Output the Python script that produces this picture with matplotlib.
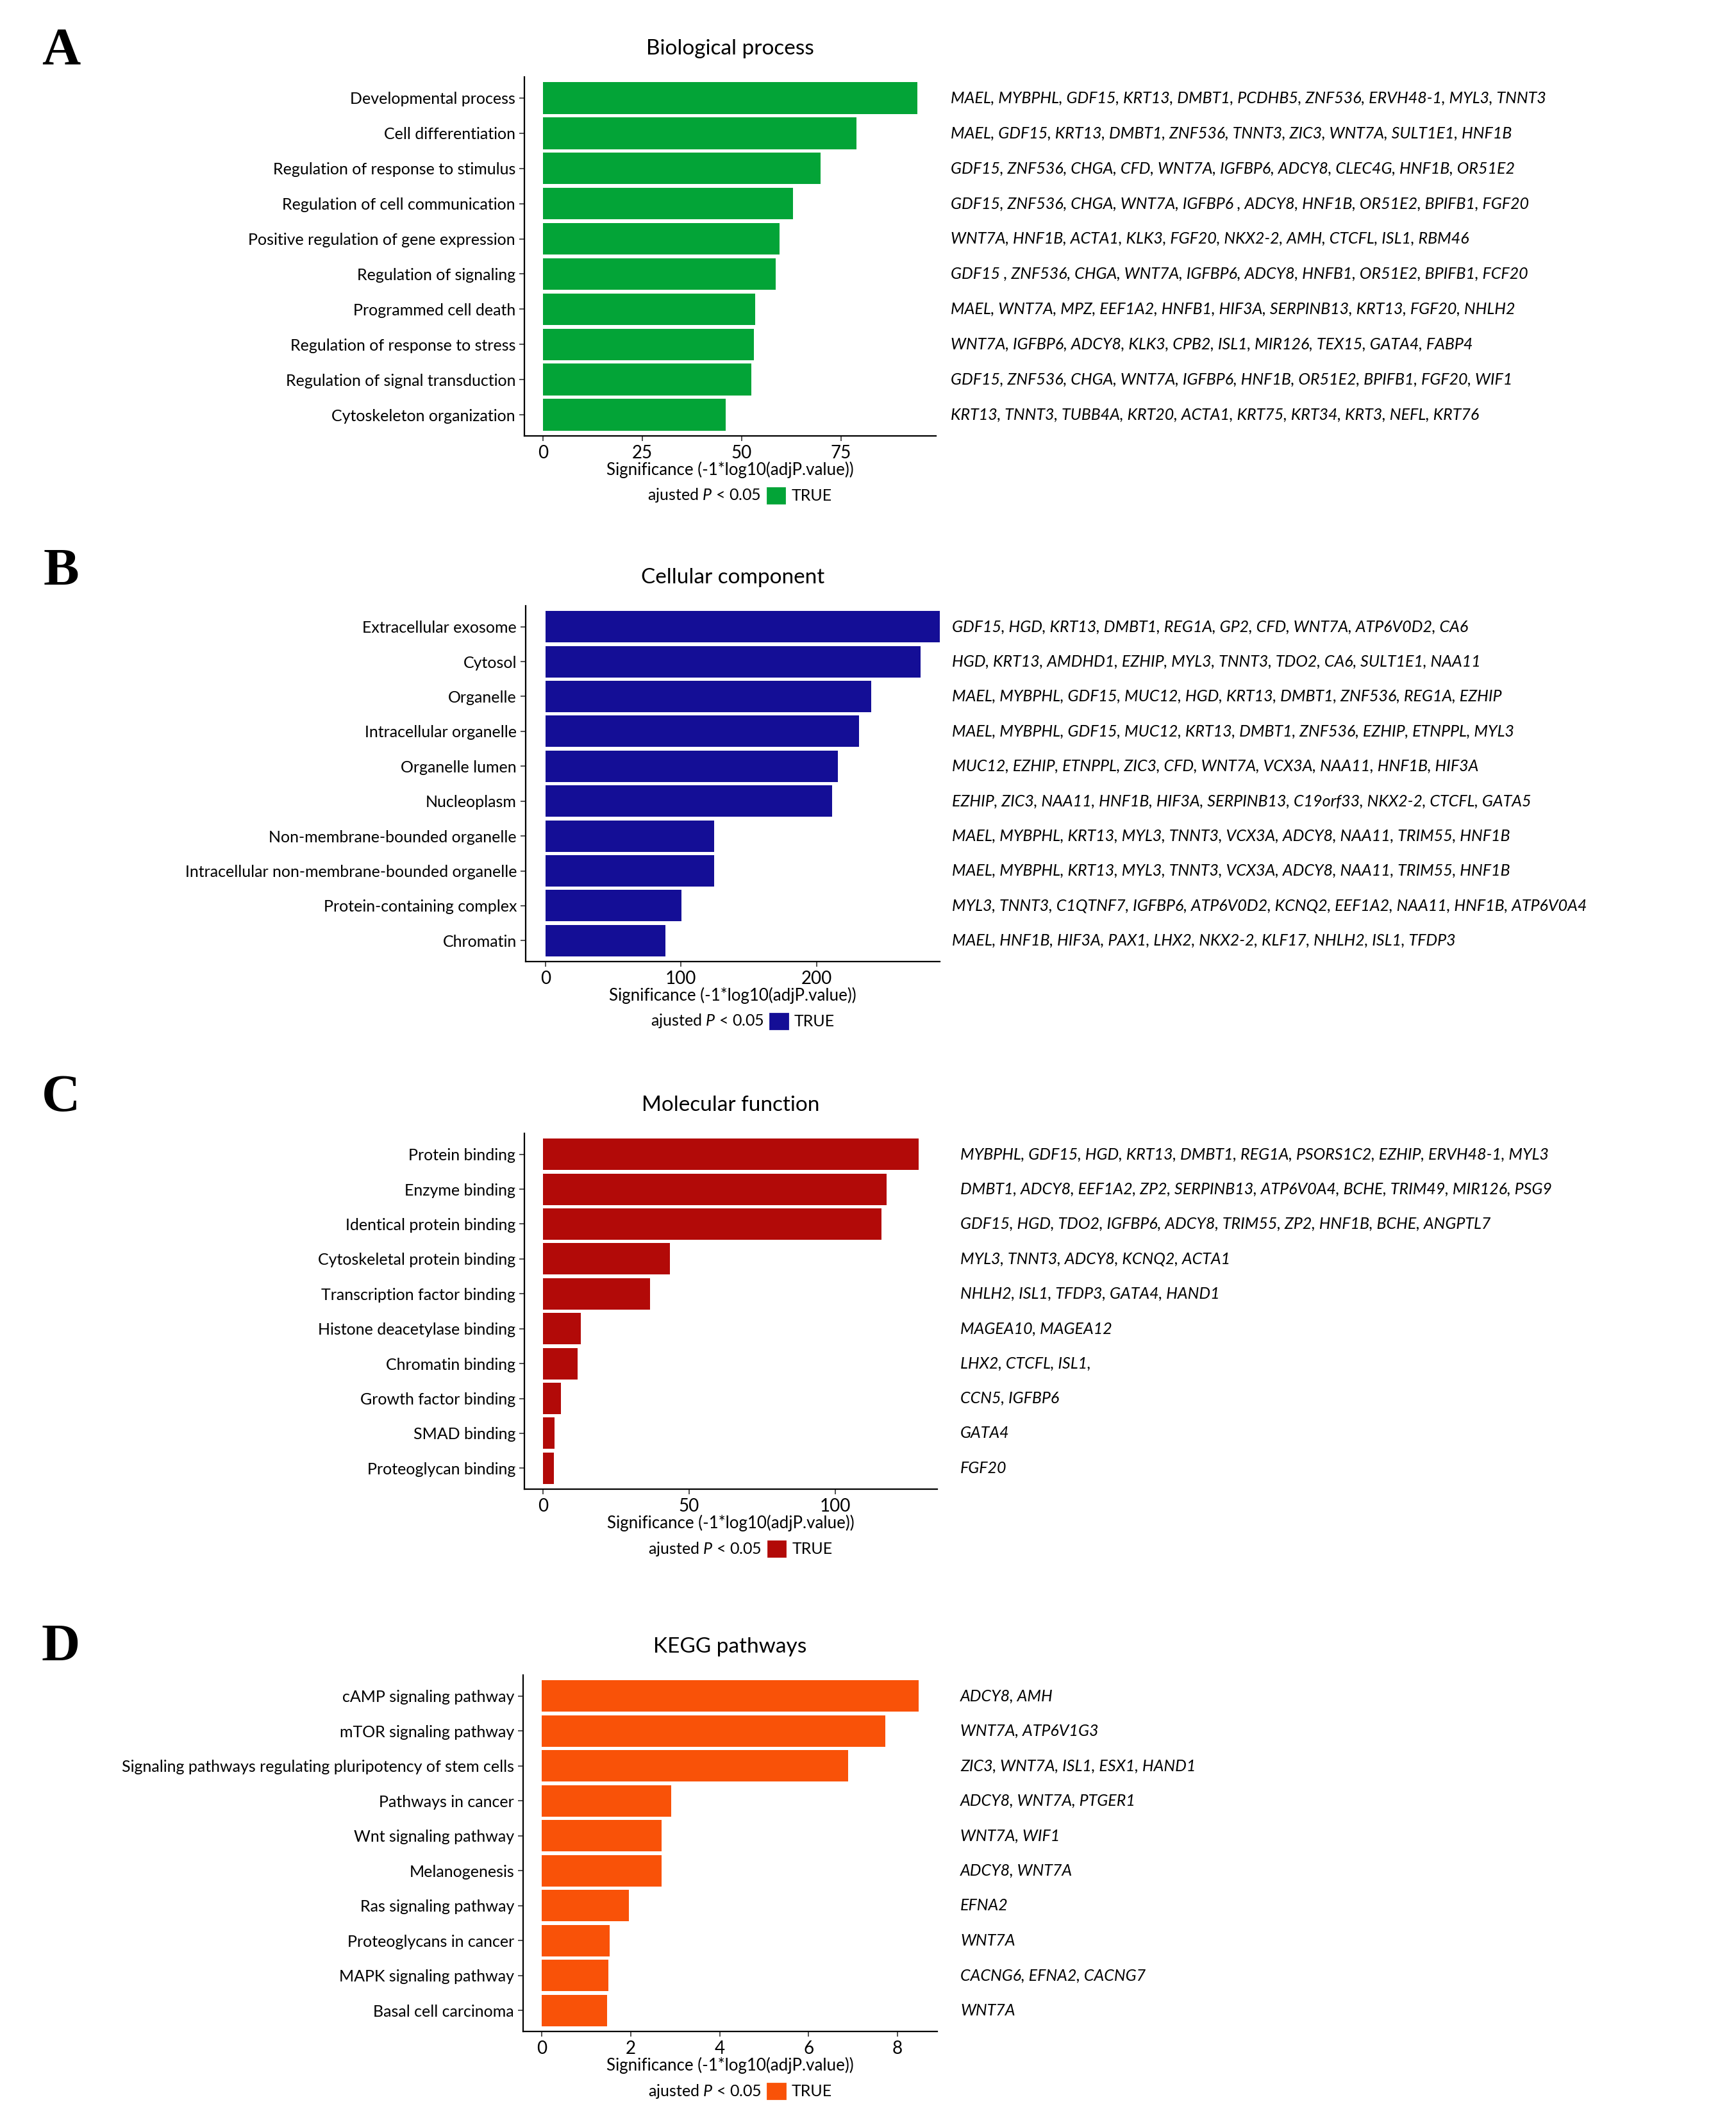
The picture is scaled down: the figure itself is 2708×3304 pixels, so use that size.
import matplotlib.pyplot as plt
from matplotlib.patches import Patch
import numpy as np

W, H = 2708, 3304
DPI = 200

# ============================================================
# Data
# ============================================================

bp_terms = [
    "Developmental process", "Cell differentiation",
    "Regulation of response to stimulus", "Regulation of cell communication",
    "Positive regulation of gene expression", "Regulation of signaling",
    "Programmed cell death", "Regulation of response to stress",
    "Regulation of signal transduction", "Cytoskeleton organization",
]
bp_sig = [94.2, 78.9, 69.8, 62.9, 59.5, 58.5, 53.4, 53.0, 52.5, 45.9]
bp_genes = [
    "MAEL, MYBPHL, GDF15, KRT13, DMBT1, PCDHB5, ZNF536, ERVH48-1, MYL3, TNNT3",
    "MAEL, GDF15, KRT13, DMBT1, ZNF536, TNNT3, ZIC3, WNT7A, SULT1E1, HNF1B",
    "GDF15, ZNF536, CHGA, CFD, WNT7A, IGFBP6, ADCY8, CLEC4G, HNF1B, OR51E2",
    "GDF15, ZNF536, CHGA, WNT7A, IGFBP6 , ADCY8, HNF1B, OR51E2, BPIFB1, FGF20",
    "WNT7A, HNF1B, ACTA1, KLK3, FGF20, NKX2-2, AMH, CTCFL, ISL1, RBM46",
    "GDF15 , ZNF536, CHGA, WNT7A, IGFBP6, ADCY8, HNFB1, OR51E2, BPIFB1, FCF20",
    "MAEL, WNT7A, MPZ, EEF1A2, HNFB1, HIF3A, SERPINB13, KRT13, FGF20, NHLH2",
    "WNT7A, IGFBP6, ADCY8, KLK3, CPB2, ISL1, MIR126, TEX15, GATA4, FABP4",
    "GDF15, ZNF536, CHGA, WNT7A, IGFBP6, HNF1B, OR51E2, BPIFB1, FGF20, WIF1",
    "KRT13, TNNT3, TUBB4A, KRT20, ACTA1, KRT75, KRT34, KRT3, NEFL, KRT76",
]

cc_terms = [
    "Extracellular exosome", "Cytosol", "Organelle", "Intracellular organelle",
    "Organelle lumen", "Nucleoplasm", "Non-membrane-bounded organelle",
    "Intracellular non-membrane-bounded organelle",
    "Protein-containing complex", "Chromatin",
]
cc_sig = [290.6, 276.6, 240.0, 231.1, 215.5, 211.2, 124.5, 124.5, 100.5, 88.7]
cc_genes = [
    "GDF15, HGD, KRT13, DMBT1, REG1A, GP2, CFD, WNT7A, ATP6V0D2, CA6",
    "HGD, KRT13, AMDHD1, EZHIP, MYL3, TNNT3, TDO2, CA6, SULT1E1, NAA11",
    "MAEL, MYBPHL, GDF15, MUC12, HGD, KRT13, DMBT1, ZNF536, REG1A, EZHIP",
    "MAEL, MYBPHL, GDF15, MUC12, KRT13, DMBT1, ZNF536, EZHIP, ETNPPL, MYL3",
    "MUC12, EZHIP, ETNPPL, ZIC3, CFD, WNT7A, VCX3A, NAA11, HNF1B, HIF3A",
    "EZHIP, ZIC3, NAA11, HNF1B, HIF3A, SERPINB13, C19orf33, NKX2-2, CTCFL, GATA5",
    "MAEL, MYBPHL, KRT13, MYL3, TNNT3, VCX3A, ADCY8, NAA11, TRIM55, HNF1B",
    "MAEL, MYBPHL, KRT13, MYL3, TNNT3, VCX3A, ADCY8, NAA11, TRIM55, HNF1B",
    "MYL3, TNNT3, C1QTNF7, IGFBP6, ATP6V0D2, KCNQ2, EEF1A2, NAA11, HNF1B, ATP6V0A4",
    "MAEL, HNF1B, HIF3A, PAX1, LHX2, NKX2-2, KLF17, NHLH2, ISL1, TFDP3",
]

mf_terms = [
    "Protein binding", "Enzyme binding", "Identical protein binding",
    "Cytoskeletal protein binding", "Transcription factor binding",
    "Histone deacetylase binding", "Chromatin binding",
    "Growth factor binding", "SMAD binding", "Proteoglycan binding",
]
mf_sig = [128.6, 117.7, 116.0, 43.4, 36.6, 13.0, 11.8, 6.0, 4.0, 3.7]
mf_genes = [
    "MYBPHL, GDF15, HGD, KRT13, DMBT1, REG1A, PSORS1C2, EZHIP, ERVH48-1, MYL3",
    "DMBT1, ADCY8, EEF1A2, ZP2, SERPINB13, ATP6V0A4, BCHE, TRIM49, MIR126, PSG9",
    "GDF15, HGD, TDO2, IGFBP6, ADCY8, TRIM55, ZP2, HNF1B, BCHE, ANGPTL7",
    "MYL3, TNNT3, ADCY8, KCNQ2, ACTA1",
    "NHLH2, ISL1, TFDP3, GATA4, HAND1",
    "MAGEA10, MAGEA12",
    "LHX2, CTCFL, ISL1,",
    "CCN5, IGFBP6",
    "GATA4",
    "FGF20",
]

kegg_terms = [
    "cAMP signaling pathway", "mTOR signaling pathway",
    "Signaling pathways regulating pluripotency of stem cells",
    "Pathways in cancer", "Wnt signaling pathway", "Melanogenesis",
    "Ras signaling pathway", "Proteoglycans in cancer",
    "MAPK signaling pathway", "Basal cell carcinoma",
]
kegg_sig = [8.47, 7.72, 6.89, 2.91, 2.69, 2.69, 1.95, 1.52, 1.50, 1.47]
kegg_genes = [
    "ADCY8, AMH",
    "WNT7A, ATP6V1G3",
    "ZIC3, WNT7A, ISL1, ESX1, HAND1",
    "ADCY8, WNT7A, PTGER1",
    "WNT7A, WIF1",
    "ADCY8, WNT7A",
    "EFNA2",
    "WNT7A",
    "CACNG6, EFNA2, CACNG7",
    "WNT7A",
]

# ============================================================
# Style
# ============================================================

plt.rcParams["font.family"] = ["Lato", "DejaVu Sans"]
plt.rcParams["mathtext.fontset"] = "custom"
plt.rcParams["mathtext.rm"] = "Lato"
plt.rcParams["mathtext.it"] = "Lato:italic"

FS = 9
fig = plt.figure(figsize=(W / DPI, H / DPI), dpi=DPI)


def px_rect(left, top, right, bottom):
    return [left / W, 1 - bottom / H, (right - left) / W, (bottom - top) / H]


def panel(letter, letter_y, title, terms, sig, genes, color, ticks, rect,
          gene_x, xmax=None):
    ax = fig.add_axes(px_rect(*rect))
    h_px = rect[3] - rect[1]
    n = len(terms)
    y = np.arange(n)[::-1] + 1

    ax.barh(y, sig, height=0.9, color=color)

    top = max(sig)
    lo = -0.05 * top
    hi = xmax if xmax is not None else top * 1.05
    ax.set_xlim(lo, hi)
    ax.set_ylim(0.4, n + 0.6)

    ax.set_yticks(y)
    ax.set_yticklabels(terms, fontsize=FS)
    ax.set_xticks(ticks)
    ax.set_xticklabels([str(t) for t in ticks], fontsize=10)
    ax.tick_params(length=3, width=0.6, color="#333333", pad=2)

    for s in ("top", "right"):
        ax.spines[s].set_visible(False)
    for s in ("left", "bottom"):
        ax.spines[s].set_linewidth(0.8)

    ax.text(0.5, 1 + 44 / h_px, title, transform=ax.transAxes,
            ha="center", va="center", fontsize=12)
    ax.text(0.5, -53 / h_px, "Significance (-1*log10(adjP.value))",
            transform=ax.transAxes, ha="center", va="center", fontsize=9.3)

    # legend: "ajusted P < 0.05  [] TRUE"
    ly = -93 / h_px
    ax.text(0.575, ly, r"ajusted $\mathit{P}$ < 0.05", transform=ax.transAxes,
            ha="right", va="center", fontsize=FS)
    ax.legend(handles=[Patch(color=color, label="TRUE")], frameon=False,
              loc="center left", bbox_to_anchor=(0.59, ly), fontsize=FS,
              handlelength=1.1, handleheight=1.1, handletextpad=0.4,
              borderpad=0, borderaxespad=0)

    for yi, g in zip(y, genes):
        ax.text(gene_x, yi, g, transform=ax.get_yaxis_transform(),
                ha="left", va="center", fontsize=FS, style="italic",
                clip_on=False)

    fig.text(95 / W, 1 - letter_y / H, letter, family="Liberation Serif",
             weight="bold", fontsize=30, ha="center", va="center")
    return ax


panel("A", 80, "Biological process", bp_terms, bp_sig, bp_genes, "#03A437",
      [0, 25, 50, 75], (818, 120, 1460, 680), 1.036)
panel("B", 893, "Cellular component", cc_terms, cc_sig, cc_genes, "#140E96",
      [0, 100, 200], (820, 945, 1466, 1500), 1.03, xmax=290.8)
panel("C", 1713, "Molecular function", mf_terms, mf_sig, mf_genes, "#B20A08",
      [0, 50, 100], (818, 1768, 1462, 2323), 1.056)
panel("D", 2570, "KEGG pathways", kegg_terms, kegg_sig, kegg_genes, "#F95208",
      [0, 2, 4, 6, 8], (816, 2613, 1462, 3169), 1.056)

plt.savefig("out.png", dpi=DPI)
